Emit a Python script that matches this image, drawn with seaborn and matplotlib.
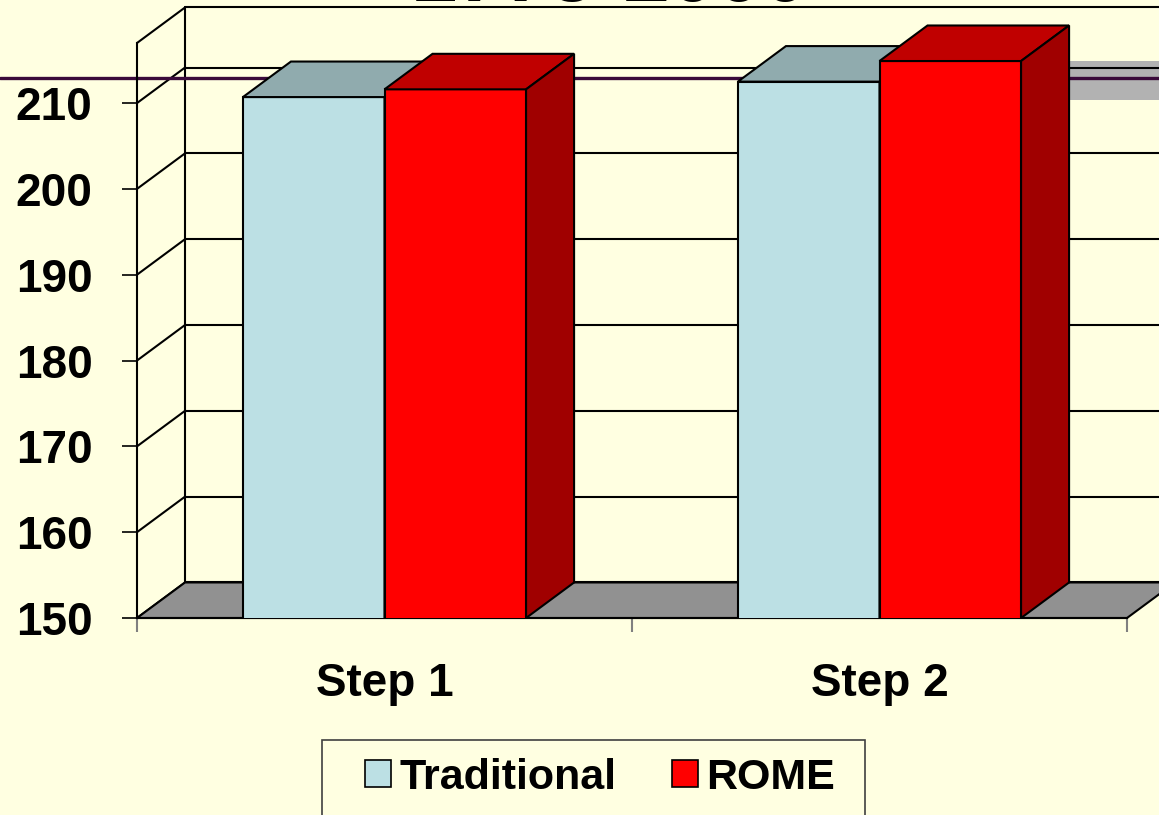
import pandas as pd
import matplotlib.pyplot as plt
import seaborn as sns
from matplotlib.patches import Polygon, Patch, Rectangle
from matplotlib.ticker import FixedLocator

sns.set_theme(style="white")
plt.rcParams['font.family'] = ['Liberation Sans', 'DejaVu Sans']
plt.rcParams['font.weight'] = 'bold'
plt.rcParams['text.color'] = 'black'
plt.rcParams['xtick.color'] = 'black'
plt.rcParams['ytick.color'] = 'black'
plt.rcParams['xtick.labelcolor'] = 'black'
plt.rcParams['ytick.labelcolor'] = 'black'

# data
steps = ['Step 1', 'Step 2']
groups = ['Traditional', 'ROME']
traditional = [210.7, 212.5]
rome = [211.6, 214.9]
y_ticks = [150, 160, 170, 180, 190, 200, 210]
titulo = '1775-2000'

bg = '#FFFFE1'
front = {'Traditional': '#BCE0E4', 'ROME': '#FF0000'}
topo = {'#BCE0E4': '#90ABAE', '#FF0000': '#C00000'}
lado = {'#BCE0E4': '#7F9A9D', '#FF0000': '#A00000'}

df = pd.DataFrame({
    'Step': steps * 2,
    'Grupo': [groups[0]] * 2 + [groups[1]] * 2,
    'Valor': traditional + rome,
})

fig = plt.figure(figsize=(11.59, 8.15), dpi=100, facecolor=bg)
ax = fig.add_axes([137 / 1159, 197 / 815, 990 / 1159, 575 / 815])
ax.set_facecolor(bg)

ymin, ymax = 150, 217
dx, dy = 0.097, 4.14  # profundidade do efeito 3D

sns.barplot(data=df, x='Step', y='Valor', hue='Grupo', palette=front, width=0.572,
            saturation=1, errorbar=None, edgecolor='black', linewidth=1.5, ax=ax)
ax.get_legend().remove()
ax.set_xlim(-0.5, 1.5)
ax.set_ylim(ymin, ymax)

barras = [p for c in ax.containers for p in c]
barras = sorted(barras, key=lambda p: p.get_x())

# parede de fundo, parede lateral e chao
x0w, x1w = -0.5, 1.5
kw = dict(color='black', lw=1.5, clip_on=False, zorder=1)
for v in y_ticks + [ymax]:
    ax.plot([x0w + dx, x1w + dx + 0.2], [v + dy, v + dy], **kw)
    ax.plot([x0w, x0w + dx], [v, v + dy], **kw)
ax.plot([x0w + dx, x0w + dx], [ymin + dy, ymax + dy], **kw)
ax.add_patch(Polygon([(x0w, ymin), (x1w, ymin), (x1w + dx, ymin + dy), (x0w + dx, ymin + dy)],
                     closed=True, fc='#919191', ec='black', lw=1.5, clip_on=False, zorder=1.2))

# faixa decorativa e linha roxa do slide
ax.add_patch(Rectangle((1.0, 210.4), 0.7, 4.5, fc='#B2B2B2', ec='none', clip_on=False, zorder=0.8))
ax.plot([0, 1], [1 - 78 / 815] * 2, transform=fig.transFigure, color='#3A0A3A', lw=2.4,
        clip_on=False, zorder=1.5)

# topo e lateral das barras
for i, p in enumerate(barras):
    a = p.get_x()
    b = a + p.get_width()
    h = p.get_height()
    cor = '#%02X%02X%02X' % tuple(int(round(c * 255)) for c in p.get_facecolor()[:3])
    z = 3 + 3 * i
    p.set_zorder(z)
    ax.add_patch(Polygon([(a, h), (b, h), (b + dx, h + dy), (a + dx, h + dy)], closed=True,
                         fc=topo.get(cor, cor), ec='black', lw=1.5, clip_on=False, zorder=z + 1))
    ax.add_patch(Polygon([(b, ymin), (b, h), (b + dx, h + dy), (b + dx, ymin + dy)], closed=True,
                         fc=lado.get(cor, cor), ec='black', lw=1.5, clip_on=False, zorder=z + 2))

# eixos
for s in ['top', 'right']:
    ax.spines[s].set_visible(False)
for s in ['left', 'bottom']:
    ax.spines[s].set_color('black')
    ax.spines[s].set_linewidth(1.5)
    ax.spines[s].set_zorder(2)

ax.set_yticks(y_ticks)
ax.tick_params(axis='y', direction='out', length=11, width=1.2, color='black', left=True,
               labelsize=33, pad=21, labelcolor='black')
ax.tick_params(axis='x', which='major', length=0, labelsize=33, pad=32, labelcolor='black')
ax.xaxis.set_minor_locator(FixedLocator([-0.5, 0.5, 1.5]))
ax.tick_params(axis='x', which='minor', direction='out', length=10, width=1.5,
               color='#808080', bottom=True)
ax.set_xlabel('')
ax.set_ylabel('')
ax.grid(False)

fig.text(610 / 1159, 1 - 1 / 815, titulo, ha='center', va='baseline', fontsize=60,
         fontweight='bold', color='black')

# legenda (a moldura continua abaixo da borda da figura)
fig.patches.append(Rectangle((322 / 1159, -0.02), 543 / 1159, 0.02 + 75 / 815, fill=False,
                             ec='#404040', lw=1.2, transform=fig.transFigure, figure=fig))
handles = [Patch(fc=front[g], ec='black', lw=1.2) for g in groups]
leg = fig.legend(handles, groups, loc='center', bbox_to_anchor=(600 / 1159, 1 - 778 / 815),
                 ncol=2, fontsize=31, frameon=False, handlelength=0.6, handleheight=0.6,
                 handletextpad=0.2, columnspacing=1.3, borderpad=0, borderaxespad=0)
for t in leg.get_texts():
    t.set_color('black')

plt.savefig('out.png', dpi=100, facecolor=bg)
